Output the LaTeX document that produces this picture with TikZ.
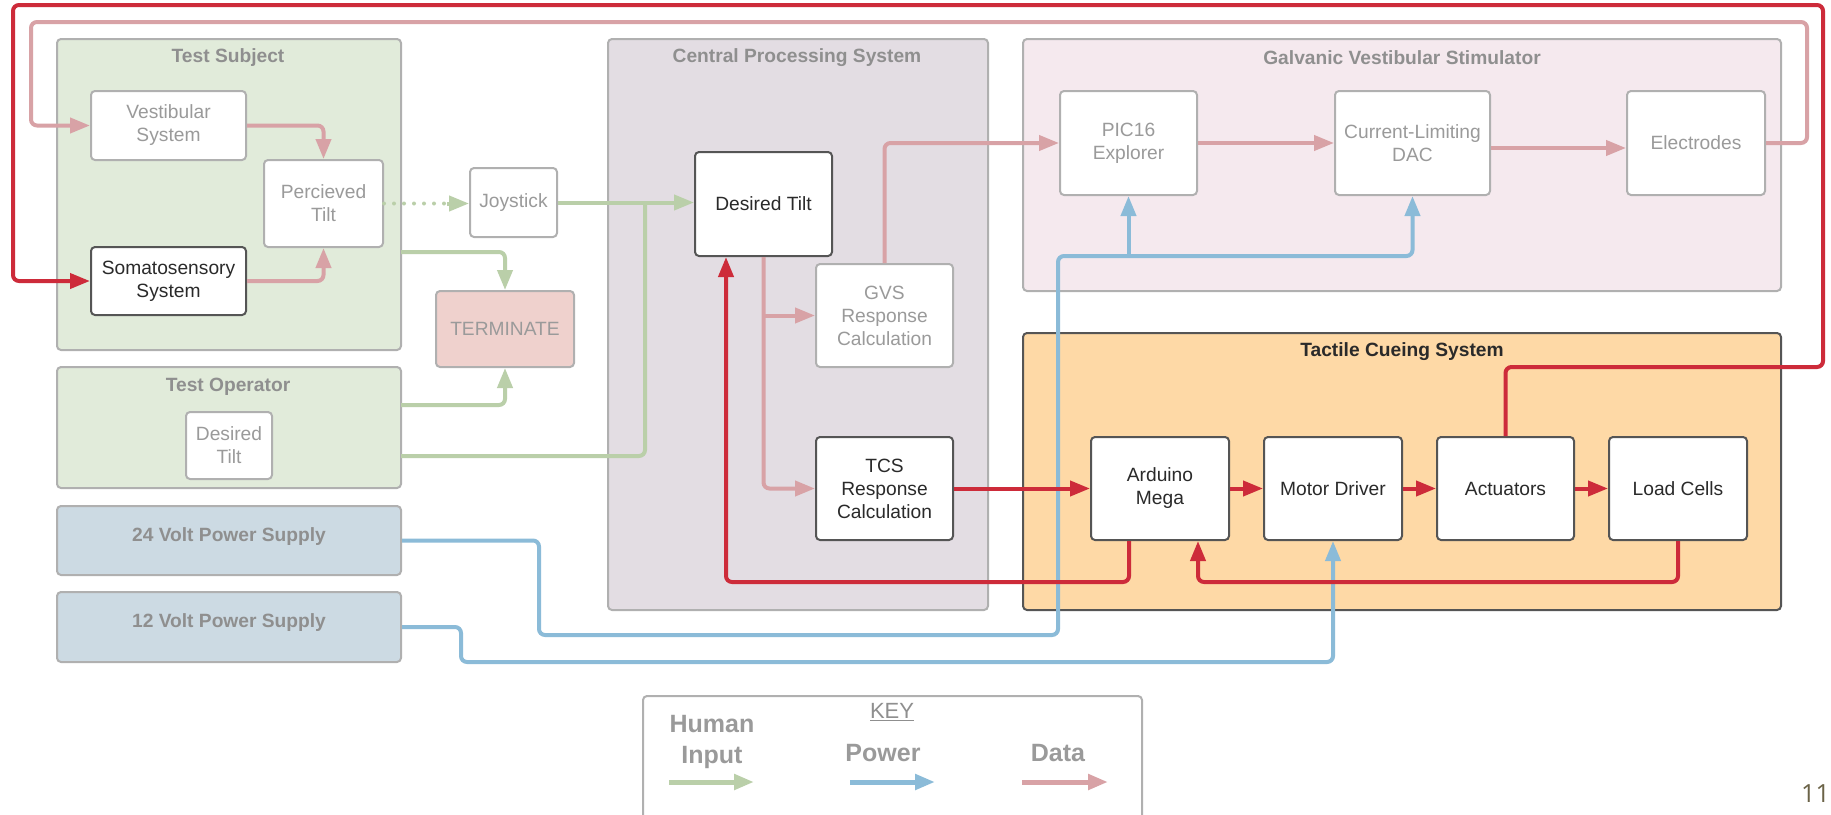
\documentclass[tikz,border=0pt]{standalone}
\usepackage{fontspec}
\setmainfont{Liberation Sans}
\newfontfamily\pagefont{Open Sans}
\usetikzlibrary{arrows.meta}
\pgfdeclarelayer{bg}
\pgfsetlayers{bg,main}
\definecolor{cred}{HTML}{CD2B3A}
\definecolor{cdata}{HTML}{D8A2A6}
\definecolor{chum}{HTML}{BACFA9}
\definecolor{cpow}{HTML}{8BBBD8}
\definecolor{fsubj}{HTML}{E1EBDA}
\definecolor{fcps}{HTML}{E3DDE3}
\definecolor{fgvs}{HTML}{F5E9EE}
\definecolor{ftcs}{HTML}{FED9A6}
\definecolor{fpow}{HTML}{CCDAE3}
\definecolor{fterm}{HTML}{EFD1CD}
\definecolor{bordL}{HTML}{B0B0B0}
\definecolor{bordD}{HTML}{555555}
\definecolor{txtL}{HTML}{9A9A9A}
\definecolor{txtT}{HTML}{8F8F8F}
\definecolor{txtD}{HTML}{2A2A2A}
\definecolor{cpage}{HTML}{6B6347}
\newcommand\fsb{\fontsize{19.2}{23}\selectfont}
\newcommand\fsk{\fontsize{25}{31}\selectfont}
\begin{document}
\begin{tikzpicture}[x=1pt,y=-1pt,
  grpbox/.style={rounded corners=4pt, line width=2pt, draw=bordL, inner sep=0pt},
  litebox/.style={rounded corners=4pt, line width=2pt, draw=bordL, fill=white, text=txtL, align=center, font=\fsb, inner sep=0pt},
  darkbox/.style={litebox, draw=bordD, text=txtD},
  grptitle/.style={font=\bfseries\fsb, text=txtT, inner sep=0pt},
  tip/.style={-{Triangle[length=20pt,width=15pt]}},
  datapath/.style={line width=4pt, draw=cdata, rounded corners=6pt},
  dataln/.style={datapath, tip},
  humpath/.style={line width=4pt, draw=chum, rounded corners=6pt},
  humln/.style={humpath, tip},
  powpath/.style={line width=4pt, draw=cpow, rounded corners=6pt},
  powln/.style={powpath, tip},
  redpath/.style={line width=4pt, draw=cred, rounded corners=6pt},
  redln/.style={redpath, tip},
  keylbl/.style={font=\bfseries\fsk, text=txtL, align=center, inner sep=0pt}
]
\useasboundingbox (0,0) rectangle (1831,814);
\clip (0,0) rectangle (1831,814);

% ---------- group boxes ----------
\begin{pgfonlayer}{bg}
\fill[white] (0,0) rectangle (1831,814);
\node[grpbox, fill=fsubj, minimum width=344pt, minimum height=311pt] (ts) at (229,194.5) {};
\node[grpbox, fill=fsubj, minimum width=344pt, minimum height=121pt] (top) at (229,427.5) {};
\node[grpbox, fill=fpow, minimum width=344pt, minimum height=69pt] (p24) at (229,540.5) {};
\node[grpbox, fill=fpow, minimum width=344pt, minimum height=70pt] (p12) at (229,627) {};
\node[grpbox, fill=fcps, minimum width=380pt, minimum height=571pt] (cps) at (798,324.5) {};
\node[grpbox, fill=fgvs, minimum width=758pt, minimum height=252pt] (gvs) at (1402,165) {};
\node[grpbox, fill=ftcs, draw=bordD, minimum width=758pt, minimum height=277pt] (tcs) at (1402,471.5) {};
\draw[line width=2pt, draw=bordL, rounded corners=4pt] (643,696) rectangle (1142,850);

\node[grptitle] (tst) at (228,58) {Test Subject};
\node[grptitle] (tot) at (228,387) {Test Operator};
\node[grptitle] (cpst) at (797,58) {Central Processing System};
\node[grptitle] (gvst) at (1402,58) {Galvanic Vestibular Stimulator};
\node[grptitle, text=txtD] (tcst) at (1402,352) {Tactile Cueing System};
\node[grptitle] (p24t) at (229,537) {24 Volt Power Supply};
\node[grptitle] (p12t) at (229,623) {12 Volt Power Supply};
\end{pgfonlayer}

% ---------- inner nodes ----------
\node[litebox, minimum width=155pt, minimum height=69pt] (vest) at (168.5,125.5) {Vestibular\\System};
\node[litebox, minimum width=119pt, minimum height=87pt] (perc) at (323.5,203.5) {Percieved\\Tilt};
\node[darkbox, minimum width=155pt, minimum height=68pt] (soma) at (168.5,281) {Somatosensory\\System};
\node[litebox, minimum width=87pt, minimum height=69pt] (joy) at (513.5,202.5) {Joystick};
\node[litebox, fill=fterm, minimum width=138pt, minimum height=76pt] (term) at (505,329) {TERMINATE};
\node[litebox, minimum width=86pt, minimum height=67pt] (odt) at (229,445.5) {Desired\\Tilt};
\node[darkbox, minimum width=137pt, minimum height=104pt] (dt) at (763.5,204) {Desired Tilt};
\node[litebox, minimum width=137pt, minimum height=103pt] (gvsr) at (884.5,315.5) {GVS\\Response\\Calculation};
\node[darkbox, minimum width=137pt, minimum height=103pt] (tcsr) at (884.5,488.5) {TCS\\Response\\Calculation};
\node[litebox, minimum width=137pt, minimum height=104pt] (pic) at (1128.5,143) {PIC16\\Explorer};
\node[litebox, minimum width=155pt, minimum height=104pt] (dac) at (1412.5,143) {Current-Limiting\\DAC};
\node[litebox, minimum width=138pt, minimum height=104pt] (elec) at (1696,143) {Electrodes};
\node[darkbox, minimum width=138pt, minimum height=103pt] (ard) at (1160,488.5) {Arduino\\Mega};
\node[darkbox, minimum width=138pt, minimum height=103pt] (mot) at (1333,488.5) {Motor Driver};
\node[darkbox, minimum width=137pt, minimum height=103pt] (act) at (1505.5,488.5) {Actuators};
\node[darkbox, minimum width=138pt, minimum height=103pt] (load) at (1678,488.5) {Load Cells};

% ---------- helper coordinates ----------
\coordinate (tsout) at (401,252);
\coordinate (toout1) at (401,405);
\coordinate (toout2) at (401,456);
\coordinate (gj) at (645,202.5);
\coordinate (pr1) at (1807,22);
\coordinate (pl1) at (31,22);
\coordinate (rb) at (0,582);
\coordinate (rr1) at (1823,367);
\coordinate (rr2) at (1823,5);
\coordinate (rl) at (13,5);
\coordinate (b24a) at (539,635);
\coordinate (bj) at (1058,256);
\coordinate (b12a) at (461,662);

% ---------- power (blue) ----------
\draw[powln] (p24.east) -| (b24a) -| (bj) -| (dac.south);
\draw[powln] (bj -| pic.south) -- (pic.south);
\draw[powln] (p12.east) -| (b12a) -| (mot.south);

% ---------- human input (green) ----------
\draw[humpath, dash pattern=on 0pt off 10pt, line cap=round] (perc.east) -- ([xshift=-20pt]perc.east -| joy.west);
\draw[humln] ([xshift=-22pt]perc.east -| joy.west) -- (perc.east -| joy.west);
\draw[humln] (tsout) -| (term.north);
\draw[humln] (toout1) -| (term.south);
\draw[humln] (joy.east) -- (joy.east -| dt.west);
\draw[humpath] (toout2) -| (gj);

% ---------- data (pink) ----------
\draw[dataln] (vest.east) -| (perc.north);
\draw[dataln] (soma.east) -| (perc.south);
\draw[dataln] (dt.south) |- (tcsr.west);
\draw[dataln] (dt.south |- gvsr.west) -- (gvsr.west);
\draw[dataln] (gvsr.north) |- (pic.west);
\draw[dataln] (pic.east) -- (dac.west);
\draw[dataln] ([yshift=-5pt]dac.east) -- ([yshift=-5pt]elec.west);
\draw[dataln] (elec.east) -| (pr1) -- (pl1) |- (vest.west);

% ---------- TCS data (red) ----------
\draw[redln] (tcsr.east) -- (ard.west);
\draw[redln] (ard.east) -- (mot.west);
\draw[redln] (mot.east) -- (act.west);
\draw[redln] (act.east) -- (load.west);
\draw[redln] (load.south) -- (load.south |- rb) -| ([xshift=38pt]ard.south);
\draw[redln] ([xshift=-31pt]ard.south) -- ([xshift=-31pt]ard.south |- rb) -| ([xshift=-37.5pt]dt.south);
\draw[redln] (act.north) |- (rr1) -- (rr2) -- (rl) |- (soma.west);

% ---------- key ----------
\node[font=\fontsize{22}{26}\selectfont, text=txtT, inner sep=0pt] (keyt) at (892,712) {\underline{KEY}};
\node[keylbl] (kh) at (712,742) {Human\\Input};
\node[keylbl] (kp) at (883,753) {Power};
\node[keylbl] (kd) at (1058,753) {Data};
\coordinate (kg1) at (669,782); \coordinate (kg2) at (754,782);
\coordinate (kb1) at (850,782); \coordinate (kb2) at (935,782);
\coordinate (kd1) at (1022,782); \coordinate (kd2) at (1108,782);
\draw[humln, line width=5pt] (kg1) -- (kg2);
\draw[powln, line width=5pt] (kb1) -- (kb2);
\draw[dataln, line width=5pt] (kd1) -- (kd2);

\node[font=\pagefont\fontsize{25}{30}\selectfont, text=cpage, inner sep=0pt, anchor=east] (pg) at (1830,794) {11};
\end{tikzpicture}
\end{document}
